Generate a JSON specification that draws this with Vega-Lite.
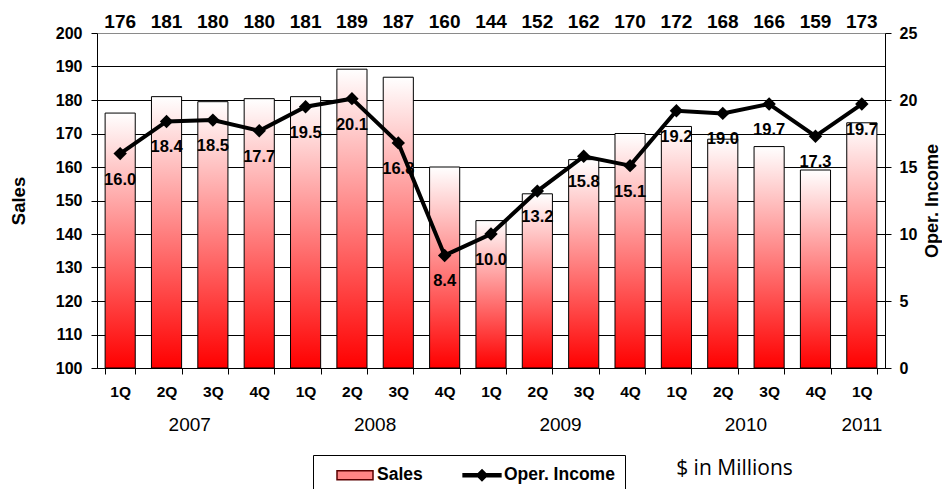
{
  "$schema": "https://vega.github.io/schema/vega-lite/v6.json",
  "width": 788,
  "height": 335,
  "autosize": {"type": "none"},
  "padding": {"left": 97, "top": 33, "right": 57, "bottom": 121},
  "background": "white",
  "config": {
    "font": "Liberation Sans",
    "view": {"stroke": null},
    "axis": {"domainColor": "black", "tickColor": "black", "labelColor": "black", "titleColor": "black"}
  },
  "data": {
    "values": [
      {"period": "2007 1Q", "year": "2007", "sales": 176.1, "income": 16.0},
      {"period": "2007 2Q", "year": "2007", "sales": 181.0, "income": 18.4},
      {"period": "2007 3Q", "year": "2007", "sales": 179.5, "income": 18.5},
      {"period": "2007 4Q", "year": "2007", "sales": 180.4, "income": 17.7},
      {"period": "2008 1Q", "year": "2008", "sales": 181.0, "income": 19.5},
      {"period": "2008 2Q", "year": "2008", "sales": 189.2, "income": 20.1},
      {"period": "2008 3Q", "year": "2008", "sales": 186.8, "income": 16.8},
      {"period": "2008 4Q", "year": "2008", "sales": 160.0, "income": 8.4},
      {"period": "2009 1Q", "year": "2009", "sales": 144.0, "income": 10.0},
      {"period": "2009 2Q", "year": "2009", "sales": 152.0, "income": 13.2},
      {"period": "2009 3Q", "year": "2009", "sales": 162.2, "income": 15.8},
      {"period": "2009 4Q", "year": "2009", "sales": 170.0, "income": 15.1},
      {"period": "2010 1Q", "year": "2010", "sales": 172.1, "income": 19.2},
      {"period": "2010 2Q", "year": "2010", "sales": 168.3, "income": 19.0},
      {"period": "2010 3Q", "year": "2010", "sales": 166.1, "income": 19.7},
      {"period": "2010 4Q", "year": "2010", "sales": 159.1, "income": 17.3},
      {"period": "2011 1Q", "year": "2011", "sales": 173.2, "income": 19.7}
    ]
  },
  "resolve": {"scale": {"x": "independent", "y": "independent"}},
  "layer": [
    {
      "mark": {
        "type": "bar",
        "stroke": "black",
        "strokeWidth": 1,
        "fill": {
          "gradient": "linear", "x1": 0, "y1": 1, "x2": 0, "y2": 0,
          "stops": [{"offset": 0, "color": "#ff0000"}, {"offset": 1, "color": "#ffffff"}]
        }
      },
      "encoding": {
        "x": {
          "field": "period", "type": "nominal", "sort": null,
          "scale": {"paddingInner": 0.35, "paddingOuter": 0.175},
          "axis": {
            "title": "$ in Millions",
            "titleFont": "Open Sans", "titleFontSize": 21, "titleFontWeight": "normal",
            "titleX": 637, "titleY": 100, "titleAlign": "center", "titleBaseline": "middle",
            "labelExpr": "split(datum.label, ' ')[1]",
            "labelAngle": 0, "labelFontSize": 15.5, "labelFontWeight": "bold",
            "labelPadding": 10, "tickSize": 6, "tickBand": "extent"
          }
        },
        "y": {
          "field": "sales", "type": "quantitative",
          "scale": {"domain": [100, 200]},
          "axis": {
            "title": "Sales",
            "values": [100, 110, 120, 130, 140, 150, 160, 170, 180, 190, 200],
            "grid": true,
            "gridColor": {"condition": {"test": "datum.value === 200", "value": "#8a8a8a"}, "value": "black"},
            "gridWidth": 1,
            "labelFontSize": 16, "labelFontWeight": "bold", "labelPadding": 9, "tickSize": 6,
            "titleFontSize": 18.5, "titleFontWeight": "bold", "titlePadding": 27
          }
        },
        "y2": {"datum": 100}
      }
    },
    {
      "mark": {"type": "line", "color": "black", "strokeWidth": 4},
      "encoding": {
        "x": {"field": "period", "type": "nominal", "sort": null, "axis": null},
        "y": {
          "field": "income", "type": "quantitative",
          "scale": {"domain": [0, 25]},
          "axis": {
            "orient": "right",
            "title": "Oper. Income",
            "values": [0, 5, 10, 15, 20, 25],
            "grid": false,
            "labelFontSize": 16, "labelFontWeight": "bold", "labelPadding": 8, "tickSize": 6,
            "titleFontSize": 18, "titleFontWeight": "bold", "titleAngle": 270,
            "titleBaseline": "top", "titlePadding": 7
          }
        }
      }
    },
    {
      "mark": {"type": "point", "shape": "diamond", "filled": true, "color": "black", "opacity": 1, "size": 180},
      "encoding": {
        "x": {"field": "period", "type": "nominal", "sort": null, "axis": null},
        "y": {"field": "income", "type": "quantitative", "scale": {"domain": [0, 25]}, "axis": null}
      }
    },
    {
      "mark": {"type": "text", "fontSize": 16.5, "fontWeight": "bold", "baseline": "middle", "dy": 26, "color": "black"},
      "encoding": {
        "x": {"field": "period", "type": "nominal", "sort": null, "axis": null},
        "y": {"field": "income", "type": "quantitative", "scale": {"domain": [0, 25]}, "axis": null},
        "text": {"field": "income", "type": "quantitative", "format": ".1f"}
      }
    },
    {
      "mark": {"type": "text", "fontSize": 19, "fontWeight": "bold", "baseline": "middle", "dy": -11.5, "color": "black"},
      "encoding": {
        "x": {"field": "period", "type": "nominal", "sort": null, "axis": null},
        "y": {"datum": 200, "type": "quantitative", "scale": {"domain": [100, 200]}, "axis": null},
        "text": {"field": "sales", "type": "quantitative", "format": ".0f"}
      }
    },
    {
      "transform": [{"window": [{"op": "row_number", "as": "i"}]}],
      "mark": {"type": "text", "fontSize": 19, "fontWeight": "normal", "baseline": "middle", "dy": 57, "color": "black"},
      "encoding": {
        "x": {"field": "i", "aggregate": "mean", "type": "quantitative", "scale": {"domain": [0.5, 17.5]}, "axis": null},
        "y": {"datum": 100, "type": "quantitative", "scale": {"domain": [100, 200]}, "axis": null},
        "text": {"field": "year", "type": "nominal"}
      }
    },
    {
      "transform": [{"filter": "false"}],
      "mark": {"type": "point", "filled": true, "opacity": 1, "strokeWidth": 1},
      "encoding": {
        "shape": {
          "field": "series", "type": "nominal",
          "scale": {"domain": ["Sales", "Oper. Income"], "range": ["M-2,-0.5H2V0.5H-2Z", "M-2.1,-0.17H2.1V0.17H-2.1ZM0,-0.6L0.6,0L0,0.6L-0.6,0Z"]},
          "legend": {
            "title": null, "orient": "none", "legendX": 216, "legendY": 422, "direction": "horizontal",
            "strokeColor": "black", "fillColor": "white", "padding": 10,
            "symbolSize": 324, "symbolOffset": 22, "labelOffset": 12, "columnPadding": 27,
            "labelFontSize": 17.5, "labelFontWeight": "bold", "labelColor": "black"
          }
        },
        "fill": {
          "field": "series", "type": "nominal",
          "scale": {"domain": ["Sales", "Oper. Income"], "range": ["#ff8585", "black"]},
          "legend": {
            "title": null, "orient": "none", "legendX": 216, "legendY": 422, "direction": "horizontal",
            "strokeColor": "black", "fillColor": "white", "padding": 10,
            "symbolSize": 324, "symbolOffset": 22, "labelOffset": 12, "columnPadding": 27,
            "labelFontSize": 17.5, "labelFontWeight": "bold", "labelColor": "black"
          }
        },
        "stroke": {
          "field": "series", "type": "nominal",
          "scale": {"domain": ["Sales", "Oper. Income"], "range": ["#5a0000", "black"]},
          "legend": {
            "title": null, "orient": "none", "legendX": 216, "legendY": 422, "direction": "horizontal",
            "strokeColor": "black", "fillColor": "white", "padding": 10,
            "symbolSize": 324, "symbolOffset": 22, "labelOffset": 12, "columnPadding": 27,
            "labelFontSize": 17.5, "labelFontWeight": "bold", "labelColor": "black"
          }
        }
      }
    }
  ]
}
